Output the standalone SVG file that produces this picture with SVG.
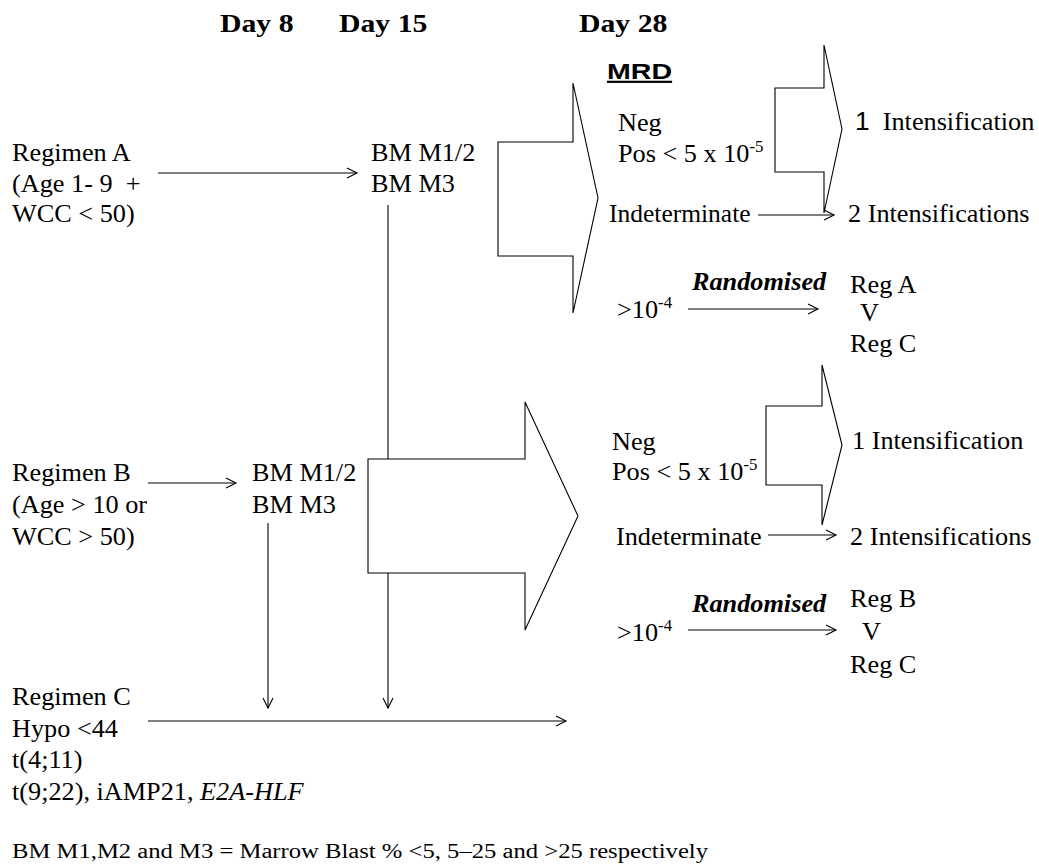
<svg xmlns="http://www.w3.org/2000/svg" width="1039" height="868" viewBox="0 0 1039 868" font-family="'Liberation Serif', 'Times New Roman', 'DejaVu Serif', serif">
  <defs>
    <marker id="open" markerUnits="userSpaceOnUse" markerWidth="14" markerHeight="14" refX="11" refY="6" orient="auto">
      <path d="M1,1 L11,6 L1,11" fill="none" stroke="#000" stroke-width="1.1"/>
    </marker>
    <style>
      .t { font-family: "Liberation Serif", "Times New Roman", "DejaVu Serif", serif; font-size: 25px; fill: #000; }
      .hd { font-weight: bold; }
      .bi { font-weight: bold; font-style: italic; }
      .it { font-style: italic; }
      .sans { font-family: "Liberation Sans", Arial, sans-serif; }
      .sup { font-size: 16px; }
      .mrd { font-family: "Liberation Sans", Arial, sans-serif; font-weight: bold; font-size: 22px; text-decoration: underline; }
      .note { font-size: 20px; }
      .ln { stroke: #000; stroke-width: 1.1; fill: none; }
      .arr { stroke: #000; stroke-width: 1.1; fill: none; marker-end: url(#open); }
      .blk { fill: #fff; stroke: #000; stroke-width: 1.1; stroke-linejoin: miter; }
    </style>
  </defs>
  <rect width="1039" height="868" fill="#fff"/>

  <!-- time-point headings -->
  <g id="headings">
    <text class="t hd" transform="translate(220 32) scale(1.19 1)">Day 8</text>
    <text class="t hd" transform="translate(339 32) scale(1.19 1)">Day 15</text>
    <text class="t hd" transform="translate(579 32) scale(1.19 1)">Day 28</text>
    <text class="mrd" transform="translate(607 79) scale(1.3 1)">MRD</text>
  </g>

  <!-- thin connectors -->
  <g id="connectors">
    <line class="arr" x1="158" y1="173" x2="357" y2="173"/>
    <line class="arr" x1="148" y1="483" x2="236" y2="483"/>
    <line class="ln" x1="388" y1="205" x2="388" y2="459"/>
    <line class="arr" x1="388" y1="573" x2="388" y2="708"/>
    <line class="arr" x1="268" y1="523" x2="268" y2="708"/>
    <line class="arr" x1="148" y1="721" x2="566" y2="721"/>
    <line class="arr" x1="758" y1="215" x2="834" y2="215"/>
    <line class="arr" x1="688" y1="309" x2="818" y2="309"/>
    <line class="arr" x1="768" y1="535" x2="836" y2="535"/>
    <line class="arr" x1="688" y1="630" x2="836" y2="630"/>
  </g>

  <!-- block arrows -->
  <g id="block-arrow-a">
    <polygon class="blk" points="498,142 573,142 573,83 598,198 573,313 573,256 498,256"/>
  </g>
  <g id="block-arrow-a-low-mrd">
    <polygon class="blk" points="775,88 824,88 824,45 842,129 824,213 824,172 775,172"/>
  </g>
  <g id="block-arrow-b">
    <polygon class="blk" points="368,459 525,459 525,402 578,516 525,630 525,573 368,573"/>
  </g>
  <g id="block-arrow-b-low-mrd">
    <polygon class="blk" points="766,406 822,406 822,365 842,445 822,525 822,485 766,485"/>
  </g>

  <!-- regimen entry nodes -->
  <g id="regimen-a">
    <text class="t" transform="translate(12 161) scale(1.05 1)">Regimen A</text>
    <text class="t" transform="translate(12 192) scale(1.05 1)">(Age 1- 9&#160; +</text>
    <text class="t" transform="translate(12 222) scale(1.05 1)">WCC &lt; 50)</text>
  </g>
  <g id="regimen-b">
    <text class="t" transform="translate(12 481) scale(1.05 1)">Regimen B</text>
    <text class="t" transform="translate(12 513) scale(1.05 1)">(Age &gt; 10 or</text>
    <text class="t" transform="translate(12 545) scale(1.05 1)">WCC &gt; 50)</text>
  </g>
  <g id="regimen-c">
    <text class="t" transform="translate(12 705) scale(1.05 1)">Regimen C</text>
    <text class="t" transform="translate(12 737) scale(1.05 1)">Hypo &lt;44</text>
    <text class="t" transform="translate(12 768) scale(1.05 1)">t(4;11)</text>
    <text class="t" transform="translate(12 800) scale(1.05 1)">t(9;22), iAMP21, <tspan class="it">E2A-HLF</tspan></text>
  </g>

  <!-- marrow response nodes -->
  <g id="bm-day15">
    <text class="t" transform="translate(371 161) scale(1.05 1)">BM M1/2</text>
    <text class="t" transform="translate(371 192) scale(1.05 1)">BM M3</text>
  </g>
  <g id="bm-day8">
    <text class="t" transform="translate(252 481) scale(1.05 1)">BM M1/2</text>
    <text class="t" transform="translate(252 513) scale(1.05 1)">BM M3</text>
  </g>

  <!-- MRD outcomes, regimen A -->
  <g id="mrd-a">
    <text class="t" transform="translate(618 131) scale(1.05 1)">Neg</text>
    <text class="t" transform="translate(618 162) scale(1.05 1)">Pos &lt; 5 x 10<tspan class="sup" dy="-10">-5</tspan></text>
    <text class="t" transform="translate(609 222) scale(1.02 1)">Indeterminate</text>
    <text class="t" transform="translate(617 318) scale(1.05 1)">&gt;10<tspan class="sup" dy="-10">-4</tspan></text>
    <text class="t bi" transform="translate(692 290) scale(1.05 1)">Randomised</text>
  </g>
  <g id="treatment-a">
    <text class="t" transform="translate(855 130) scale(1.05 1)"><tspan class="sans">1</tspan>&#160; Intensification</text>
    <text class="t" transform="translate(848 222) scale(1.05 1)">2 Intensifications</text>
    <text class="t" transform="translate(850 293) scale(1.05 1)">Reg A</text>
    <text class="t" transform="translate(860 321) scale(1.05 1)">V</text>
    <text class="t" transform="translate(850 352) scale(1.05 1)">Reg C</text>
  </g>

  <!-- MRD outcomes, regimen B -->
  <g id="mrd-b">
    <text class="t" transform="translate(612 450) scale(1.05 1)">Neg</text>
    <text class="t" transform="translate(612 480) scale(1.05 1)">Pos &lt; 5 x 10<tspan class="sup" dy="-10">-5</tspan></text>
    <text class="t" transform="translate(616 545) scale(1.05 1)">Indeterminate</text>
    <text class="t" transform="translate(617 641) scale(1.05 1)">&gt;10<tspan class="sup" dy="-10">-4</tspan></text>
    <text class="t bi" transform="translate(692 612) scale(1.05 1)">Randomised</text>
  </g>
  <g id="treatment-b">
    <text class="t" transform="translate(852 449) scale(1.05 1)">1 Intensification</text>
    <text class="t" transform="translate(850 545) scale(1.05 1)">2 Intensifications</text>
    <text class="t" transform="translate(850 607) scale(1.05 1)">Reg B</text>
    <text class="t" transform="translate(862 640) scale(1.05 1)">V</text>
    <text class="t" transform="translate(850 673) scale(1.05 1)">Reg C</text>
  </g>

  <!-- legend -->
  <g id="legend">
    <text class="t note" x="12" y="858" textLength="696" lengthAdjust="spacingAndGlyphs">BM M1,M2 and M3 = Marrow Blast % &lt;5, 5–25 and &gt;25 respectively</text>
  </g>
</svg>
